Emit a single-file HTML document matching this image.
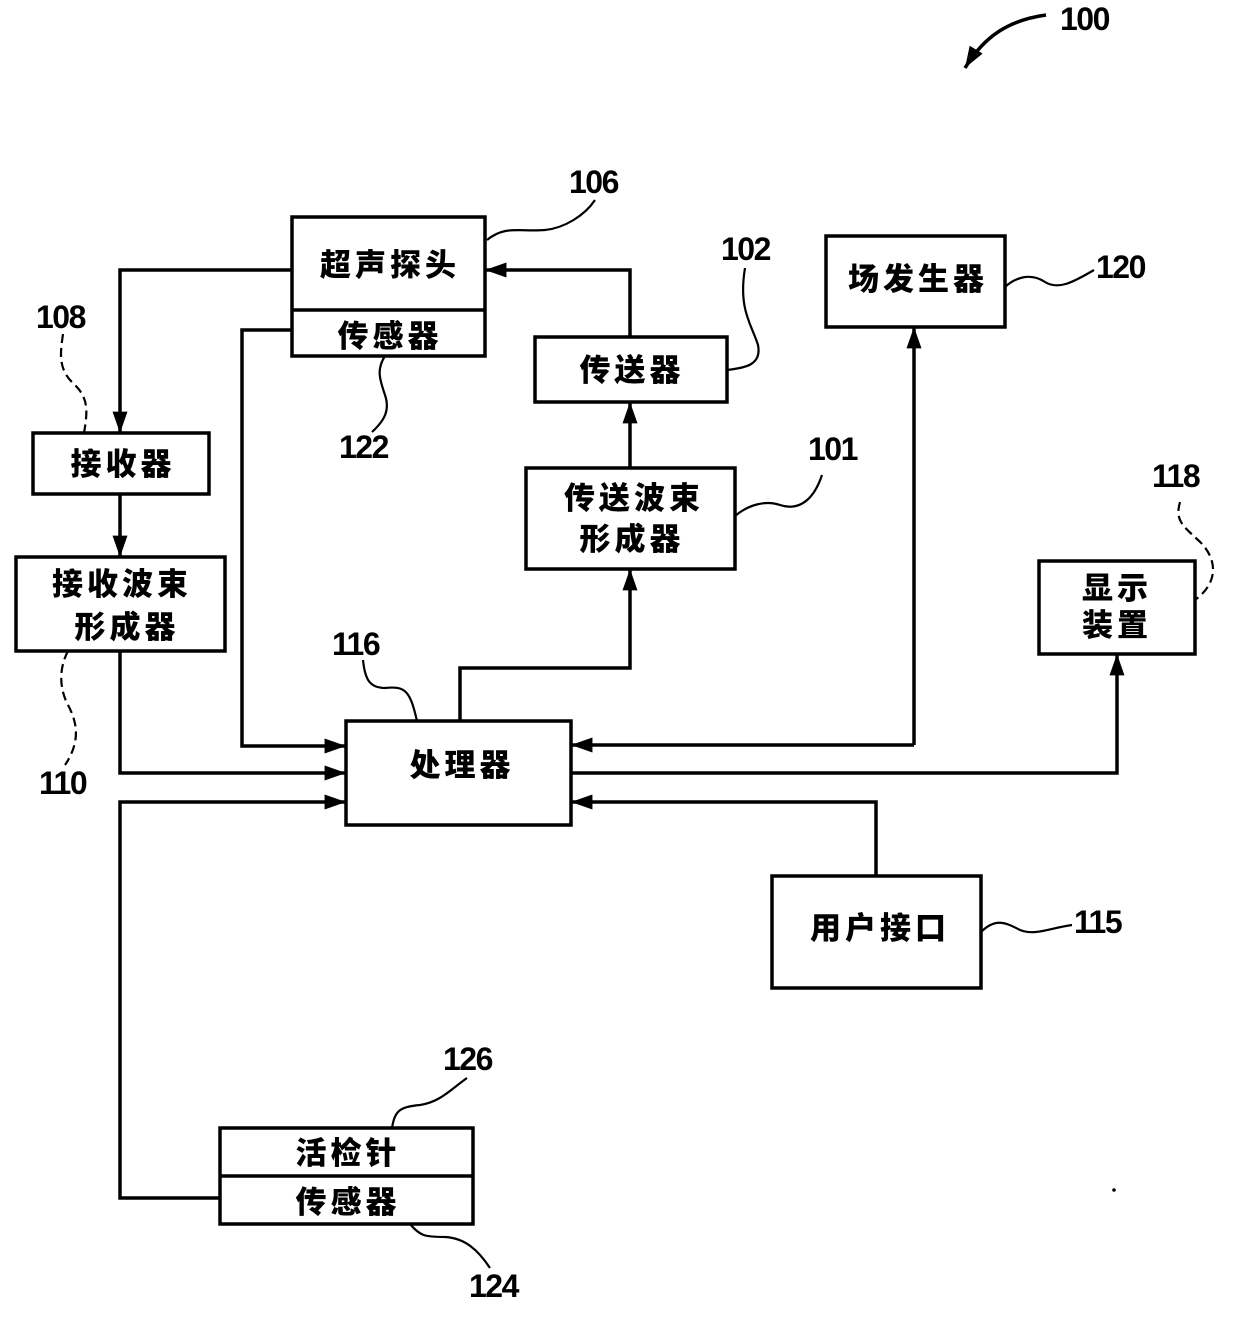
<!DOCTYPE html>
<html><head><meta charset="utf-8"><style>
html,body{margin:0;padding:0;background:#fff;}
svg{display:block;}
.b{fill:#fff;stroke:#000;stroke-width:3.5;}
.l{fill:none;stroke:#000;stroke-width:3.5;}
.c{fill:none;stroke:#000;stroke-width:2.2;}
.d{fill:none;stroke:#000;stroke-width:2.2;stroke-dasharray:9 5;}
.t{font-family:"Liberation Sans","Noto Sans CJK SC",sans-serif;font-weight:900;font-size:31px;text-anchor:middle;letter-spacing:4px;}
.n{font-family:"Liberation Sans",sans-serif;font-weight:bold;font-size:32px;letter-spacing:-1.5px;}
</style></head><body>
<svg width="1240" height="1333" viewBox="0 0 1240 1333" xmlns="http://www.w3.org/2000/svg">
<defs>
<marker id="A" viewBox="0 0 20 14" markerWidth="22" markerHeight="15" refX="20" refY="7" orient="auto" markerUnits="userSpaceOnUse"><path d="M0,0 L20,7 L0,14 Z"/></marker></defs>

<rect class="b" x="292" y="217" width="193" height="139"/><line class="l" x1="292" y1="310" x2="485" y2="310"/>
<text class="t" x="390" y="276">超声探头</text><text class="t" x="390" y="347">传感器</text>
<rect class="b" x="535" y="337" width="192" height="65"/><text class="t" x="632" y="381">传送器</text>
<rect class="b" x="826" y="236" width="179" height="91"/><text class="t" x="918" y="290">场发生器</text>
<rect class="b" x="33" y="433" width="176" height="61"/><text class="t" x="123" y="475">接收器</text>
<rect class="b" x="16" y="557" width="209" height="94"/><text class="t" x="122" y="595">接收波束</text><text class="t" x="127" y="638">形成器</text>
<rect class="b" x="526" y="468" width="209" height="101"/><text class="t" x="634" y="509">传送波束</text><text class="t" x="632" y="550">形成器</text>
<rect class="b" x="1039" y="561" width="156" height="93"/><text class="t" x="1117" y="599">显示</text><text class="t" x="1117" y="636">装置</text>
<rect class="b" x="346" y="721" width="225" height="104"/><text class="t" x="462" y="776">处理器</text>
<rect class="b" x="772" y="876" width="209" height="112"/><text class="t" x="880" y="939">用户接口</text>
<rect class="b" x="220" y="1128" width="253" height="96"/><line class="l" x1="220" y1="1176" x2="473" y2="1176"/>
<text class="t" x="348" y="1164">活检针</text><text class="t" x="348" y="1213">传感器</text>

<polyline class="l" points="292,270 120,270 120,433" marker-end="url(#A)"/>
<polyline class="l" points="120,494 120,557" marker-end="url(#A)"/>
<polyline class="l" points="120,651 120,773 346,773" marker-end="url(#A)"/>
<polyline class="l" points="292,330 242,330 242,746 346,746" marker-end="url(#A)"/>
<polyline class="l" points="220,1198 120,1198 120,802 346,802" marker-end="url(#A)"/>
<polyline class="l" points="460,721 460,668 630,668 630,569" marker-end="url(#A)"/>
<polyline class="l" points="630,468 630,402" marker-end="url(#A)"/>
<polyline class="l" points="630,337 630,270 485,270" marker-end="url(#A)"/>
<polyline class="l" points="914,745 571,745" marker-end="url(#A)"/>
<polyline class="l" points="914,745 914,327" marker-end="url(#A)"/>
<polyline class="l" points="571,773 1117,773 1117,654" marker-end="url(#A)"/>
<polyline class="l" points="876,876 876,802 571,802" marker-end="url(#A)"/>

<path class="l" d="M1046,15 C1010,20 985,35 965,68" marker-end="url(#A)"/>
<text class="n" x="1060" y="30">100</text>

<text class="n" x="569" y="193">106</text>
<path class="c" d="M487,240 C505,225 520,232 545,230 C565,228 585,215 595,200"/>
<text class="n" x="721" y="260">102</text>
<path class="c" d="M727,370 C745,368 762,365 758,345 C752,325 738,310 745,268"/>
<text class="n" x="1096" y="278">120</text>
<path class="c" d="M1005,287 C1015,278 1030,272 1045,282 C1058,290 1072,283 1094,270"/>
<text class="n" x="36" y="328">108</text>
<path class="d" d="M63,334 C60,355 58,370 75,385 C88,398 88,410 84,433"/>
<text class="n" x="339" y="458">122</text>
<path class="c" d="M385,356 C376,370 380,380 385,395 C390,410 385,420 372,432"/>
<text class="n" x="808" y="460">101</text>
<path class="c" d="M735,516 C748,505 765,500 780,505 C795,510 812,505 822,475"/>
<text class="n" x="1152" y="487">118</text>
<path class="d" d="M1180,502 C1175,520 1182,525 1198,540 C1215,555 1222,580 1195,600"/>
<text class="n" x="332" y="655">116</text>
<path class="c" d="M363,660 C365,680 370,688 385,688 C405,686 410,690 417,721"/>
<text class="n" x="39" y="794">110</text>
<path class="d" d="M68,651 C58,670 60,690 68,705 C76,720 82,740 65,765"/>
<text class="n" x="1074" y="933">115</text>
<path class="c" d="M981,932 C995,918 1005,922 1020,930 C1035,936 1050,928 1072,925"/>
<text class="n" x="443" y="1070">126</text>
<path class="c" d="M392,1128 C395,1110 400,1107 420,1105 C440,1102 450,1090 467,1078"/>
<text class="n" x="469" y="1297">124</text>
<path class="c" d="M410,1224 C420,1236 425,1237 445,1237 C465,1238 478,1250 490,1268"/>
<circle cx="1114" cy="1190" r="1.8" fill="#000"/>
</svg>
</body></html>
